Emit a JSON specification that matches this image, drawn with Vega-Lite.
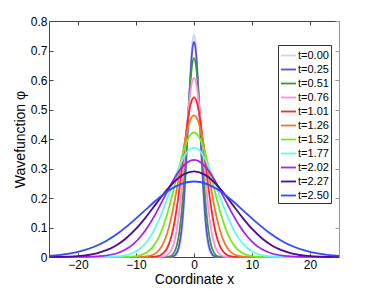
{
  "$schema": "https://vega.github.io/schema/vega-lite/v6.json",
  "width": 290,
  "height": 236,
  "autosize": {"type": "none"},
  "padding": {"left": 49, "top": 21, "right": 35, "bottom": 32},
  "config": {
    "view": {"stroke": null},
    "font": "Liberation Sans",
    "axis": {"grid": false, "domainColor": "#444", "tickColor": "#444", "labelColor": "#000", "titleColor": "#000", "labelFont": "Liberation Sans", "titleFont": "Liberation Sans", "labelFontSize": 12, "titleFontSize": 14, "titleFontWeight": "normal"}
  },
  "layer": [
    {
      "data": {"values": [
        {"t":"t=0.00","x":-25,"y":0},{"t":"t=0.00","x":-4,"y":0.0003},{"t":"t=0.00","x":-3.5,"y":0.0017},{"t":"t=0.00","x":-3,"y":0.0084},{"t":"t=0.00","x":-2.5,"y":0.0331},{"t":"t=0.00","x":-2.25,"y":0.06},{"t":"t=0.00","x":-2,"y":0.102},{"t":"t=0.00","x":-1.75,"y":0.1631},{"t":"t=0.00","x":-1.5,"y":0.2448},{"t":"t=0.00","x":-1.25,"y":0.3452},{"t":"t=0.00","x":-1,"y":0.4573},{"t":"t=0.00","x":-0.75,"y":0.5691},{"t":"t=0.00","x":-0.5,"y":0.6654},{"t":"t=0.00","x":-0.25,"y":0.7308},
        {"t":"t=0.00","x":0,"y":0.754},
        {"t":"t=0.00","x":0.25,"y":0.7308},{"t":"t=0.00","x":0.5,"y":0.6654},{"t":"t=0.00","x":0.75,"y":0.5691},{"t":"t=0.00","x":1,"y":0.4573},{"t":"t=0.00","x":1.25,"y":0.3452},{"t":"t=0.00","x":1.5,"y":0.2448},{"t":"t=0.00","x":1.75,"y":0.1631},{"t":"t=0.00","x":2,"y":0.102},{"t":"t=0.00","x":2.25,"y":0.06},{"t":"t=0.00","x":2.5,"y":0.0331},{"t":"t=0.00","x":3,"y":0.0084},{"t":"t=0.00","x":3.5,"y":0.0017},{"t":"t=0.00","x":4,"y":0.0003},{"t":"t=0.00","x":25,"y":0},

        {"t":"t=0.25","x":-25,"y":0},{"t":"t=0.25","x":-4.24,"y":0.0002},{"t":"t=0.25","x":-3.71,"y":0.0016},{"t":"t=0.25","x":-3.18,"y":0.0081},{"t":"t=0.25","x":-2.65,"y":0.032},{"t":"t=0.25","x":-2.385,"y":0.058},{"t":"t=0.25","x":-2.12,"y":0.0987},{"t":"t=0.25","x":-1.855,"y":0.1577},{"t":"t=0.25","x":-1.59,"y":0.2367},{"t":"t=0.25","x":-1.325,"y":0.3338},{"t":"t=0.25","x":-1.06,"y":0.4422},{"t":"t=0.25","x":-0.795,"y":0.5503},{"t":"t=0.25","x":-0.53,"y":0.6433},{"t":"t=0.25","x":-0.265,"y":0.7066},
        {"t":"t=0.25","x":0,"y":0.729},
        {"t":"t=0.25","x":0.265,"y":0.7066},{"t":"t=0.25","x":0.53,"y":0.6433},{"t":"t=0.25","x":0.795,"y":0.5503},{"t":"t=0.25","x":1.06,"y":0.4422},{"t":"t=0.25","x":1.325,"y":0.3338},{"t":"t=0.25","x":1.59,"y":0.2367},{"t":"t=0.25","x":1.855,"y":0.1577},{"t":"t=0.25","x":2.12,"y":0.0987},{"t":"t=0.25","x":2.385,"y":0.058},{"t":"t=0.25","x":2.65,"y":0.032},{"t":"t=0.25","x":3.18,"y":0.0081},{"t":"t=0.25","x":3.71,"y":0.0016},{"t":"t=0.25","x":4.24,"y":0.0002},{"t":"t=0.25","x":25,"y":0},

        {"t":"t=0.51","x":-25,"y":0},{"t":"t=0.51","x":-4.96,"y":0.0002},{"t":"t=0.51","x":-4.34,"y":0.0015},{"t":"t=0.51","x":-3.72,"y":0.0075},{"t":"t=0.51","x":-3.1,"y":0.0296},{"t":"t=0.51","x":-2.79,"y":0.0536},{"t":"t=0.51","x":-2.48,"y":0.0912},{"t":"t=0.51","x":-2.17,"y":0.1458},{"t":"t=0.51","x":-1.86,"y":0.2188},{"t":"t=0.51","x":-1.55,"y":0.3086},{"t":"t=0.51","x":-1.24,"y":0.4088},{"t":"t=0.51","x":-0.93,"y":0.5088},{"t":"t=0.51","x":-0.62,"y":0.5948},{"t":"t=0.51","x":-0.31,"y":0.6533},
        {"t":"t=0.51","x":0,"y":0.674},
        {"t":"t=0.51","x":0.31,"y":0.6533},{"t":"t=0.51","x":0.62,"y":0.5948},{"t":"t=0.51","x":0.93,"y":0.5088},{"t":"t=0.51","x":1.24,"y":0.4088},{"t":"t=0.51","x":1.55,"y":0.3086},{"t":"t=0.51","x":1.86,"y":0.2188},{"t":"t=0.51","x":2.17,"y":0.1458},{"t":"t=0.51","x":2.48,"y":0.0912},{"t":"t=0.51","x":2.79,"y":0.0536},{"t":"t=0.51","x":3.1,"y":0.0296},{"t":"t=0.51","x":3.72,"y":0.0075},{"t":"t=0.51","x":4.34,"y":0.0015},{"t":"t=0.51","x":4.96,"y":0.0002},{"t":"t=0.51","x":25,"y":0},

        {"t":"t=0.76","x":-25,"y":0},{"t":"t=0.76","x":-6.12,"y":0.0002},{"t":"t=0.76","x":-5.355,"y":0.0013},{"t":"t=0.76","x":-4.59,"y":0.0067},{"t":"t=0.76","x":-3.825,"y":0.0267},{"t":"t=0.76","x":-3.4425,"y":0.0483},{"t":"t=0.76","x":-3.06,"y":0.0822},{"t":"t=0.76","x":-2.6775,"y":0.1313},{"t":"t=0.76","x":-2.295,"y":0.1971},{"t":"t=0.76","x":-1.9125,"y":0.2779},{"t":"t=0.76","x":-1.53,"y":0.3682},{"t":"t=0.76","x":-1.1475,"y":0.4582},{"t":"t=0.76","x":-0.765,"y":0.5357},{"t":"t=0.76","x":-0.3825,"y":0.5883},
        {"t":"t=0.76","x":0,"y":0.607},
        {"t":"t=0.76","x":0.3825,"y":0.5883},{"t":"t=0.76","x":0.765,"y":0.5357},{"t":"t=0.76","x":1.1475,"y":0.4582},{"t":"t=0.76","x":1.53,"y":0.3682},{"t":"t=0.76","x":1.9125,"y":0.2779},{"t":"t=0.76","x":2.295,"y":0.1971},{"t":"t=0.76","x":2.6775,"y":0.1313},{"t":"t=0.76","x":3.06,"y":0.0822},{"t":"t=0.76","x":3.4425,"y":0.0483},{"t":"t=0.76","x":3.825,"y":0.0267},{"t":"t=0.76","x":4.59,"y":0.0067},{"t":"t=0.76","x":5.355,"y":0.0013},{"t":"t=0.76","x":6.12,"y":0.0002},{"t":"t=0.76","x":25,"y":0},

        {"t":"t=1.01","x":-25,"y":0},{"t":"t=1.01","x":-7.72,"y":0.0002},{"t":"t=1.01","x":-6.755,"y":0.0012},{"t":"t=1.01","x":-5.79,"y":0.006},{"t":"t=1.01","x":-4.825,"y":0.0238},{"t":"t=1.01","x":-4.3425,"y":0.043},{"t":"t=1.01","x":-3.86,"y":0.0732},{"t":"t=1.01","x":-3.3775,"y":0.117},{"t":"t=1.01","x":-2.895,"y":0.1756},{"t":"t=1.01","x":-2.4125,"y":0.2477},{"t":"t=1.01","x":-1.93,"y":0.3281},{"t":"t=1.01","x":-1.4475,"y":0.4084},{"t":"t=1.01","x":-0.965,"y":0.4774},{"t":"t=1.01","x":-0.4825,"y":0.5244},
        {"t":"t=1.01","x":0,"y":0.541},
        {"t":"t=1.01","x":0.4825,"y":0.5244},{"t":"t=1.01","x":0.965,"y":0.4774},{"t":"t=1.01","x":1.4475,"y":0.4084},{"t":"t=1.01","x":1.93,"y":0.3281},{"t":"t=1.01","x":2.4125,"y":0.2477},{"t":"t=1.01","x":2.895,"y":0.1756},{"t":"t=1.01","x":3.3775,"y":0.117},{"t":"t=1.01","x":3.86,"y":0.0732},{"t":"t=1.01","x":4.3425,"y":0.043},{"t":"t=1.01","x":4.825,"y":0.0238},{"t":"t=1.01","x":5.79,"y":0.006},{"t":"t=1.01","x":6.755,"y":0.0012},{"t":"t=1.01","x":7.72,"y":0.0002},{"t":"t=1.01","x":25,"y":0},

        {"t":"t=1.26","x":-25,"y":0},{"t":"t=1.26","x":-9.8,"y":0.0002},{"t":"t=1.26","x":-8.575,"y":0.0011},{"t":"t=1.26","x":-7.35,"y":0.0053},{"t":"t=1.26","x":-6.125,"y":0.0211},{"t":"t=1.26","x":-5.5125,"y":0.0382},{"t":"t=1.26","x":-4.9,"y":0.065},{"t":"t=1.26","x":-4.2875,"y":0.1038},{"t":"t=1.26","x":-3.675,"y":0.1558},{"t":"t=1.26","x":-3.0625,"y":0.2198},{"t":"t=1.26","x":-2.45,"y":0.2911},{"t":"t=1.26","x":-1.8375,"y":0.3623},{"t":"t=1.26","x":-1.225,"y":0.4236},{"t":"t=1.26","x":-0.6125,"y":0.4652},
        {"t":"t=1.26","x":0,"y":0.48},
        {"t":"t=1.26","x":0.6125,"y":0.4652},{"t":"t=1.26","x":1.225,"y":0.4236},{"t":"t=1.26","x":1.8375,"y":0.3623},{"t":"t=1.26","x":2.45,"y":0.2911},{"t":"t=1.26","x":3.0625,"y":0.2198},{"t":"t=1.26","x":3.675,"y":0.1558},{"t":"t=1.26","x":4.2875,"y":0.1038},{"t":"t=1.26","x":4.9,"y":0.065},{"t":"t=1.26","x":5.5125,"y":0.0382},{"t":"t=1.26","x":6.125,"y":0.0211},{"t":"t=1.26","x":7.35,"y":0.0053},{"t":"t=1.26","x":8.575,"y":0.0011},{"t":"t=1.26","x":9.8,"y":0.0002},{"t":"t=1.26","x":25,"y":0},

        {"t":"t=1.52","x":-25,"y":0},{"t":"t=1.52","x":-12.68,"y":0.0001},{"t":"t=1.52","x":-11.095,"y":0.0009},{"t":"t=1.52","x":-9.51,"y":0.0047},{"t":"t=1.52","x":-7.925,"y":0.0185},{"t":"t=1.52","x":-7.1325,"y":0.0336},{"t":"t=1.52","x":-6.34,"y":0.0571},{"t":"t=1.52","x":-5.5475,"y":0.0913},{"t":"t=1.52","x":-4.755,"y":0.137},{"t":"t=1.52","x":-3.9625,"y":0.1932},{"t":"t=1.52","x":-3.17,"y":0.256},{"t":"t=1.52","x":-2.3775,"y":0.3185},{"t":"t=1.52","x":-1.585,"y":0.3724},{"t":"t=1.52","x":-0.7925,"y":0.409},
        {"t":"t=1.52","x":0,"y":0.422},
        {"t":"t=1.52","x":0.7925,"y":0.409},{"t":"t=1.52","x":1.585,"y":0.3724},{"t":"t=1.52","x":2.3775,"y":0.3185},{"t":"t=1.52","x":3.17,"y":0.256},{"t":"t=1.52","x":3.9625,"y":0.1932},{"t":"t=1.52","x":4.755,"y":0.137},{"t":"t=1.52","x":5.5475,"y":0.0913},{"t":"t=1.52","x":6.34,"y":0.0571},{"t":"t=1.52","x":7.1325,"y":0.0336},{"t":"t=1.52","x":7.925,"y":0.0185},{"t":"t=1.52","x":9.51,"y":0.0047},{"t":"t=1.52","x":11.095,"y":0.0009},{"t":"t=1.52","x":12.68,"y":0.0001},{"t":"t=1.52","x":25,"y":0},

        {"t":"t=1.77","x":-25,"y":0},{"t":"t=1.77","x":-16.4,"y":0.0001},{"t":"t=1.77","x":-14.35,"y":0.0008},{"t":"t=1.77","x":-12.3,"y":0.0041},{"t":"t=1.77","x":-10.25,"y":0.0163},{"t":"t=1.77","x":-9.225,"y":0.0295},{"t":"t=1.77","x":-8.2,"y":0.0502},{"t":"t=1.77","x":-7.175,"y":0.0802},{"t":"t=1.77","x":-6.15,"y":0.1204},{"t":"t=1.77","x":-5.125,"y":0.1699},{"t":"t=1.77","x":-4.1,"y":0.225},{"t":"t=1.77","x":-3.075,"y":0.28},{"t":"t=1.77","x":-2.05,"y":0.3274},{"t":"t=1.77","x":-1.025,"y":0.3596},
        {"t":"t=1.77","x":0,"y":0.371},
        {"t":"t=1.77","x":1.025,"y":0.3596},{"t":"t=1.77","x":2.05,"y":0.3274},{"t":"t=1.77","x":3.075,"y":0.28},{"t":"t=1.77","x":4.1,"y":0.225},{"t":"t=1.77","x":5.125,"y":0.1699},{"t":"t=1.77","x":6.15,"y":0.1204},{"t":"t=1.77","x":7.175,"y":0.0802},{"t":"t=1.77","x":8.2,"y":0.0502},{"t":"t=1.77","x":9.225,"y":0.0295},{"t":"t=1.77","x":10.25,"y":0.0163},{"t":"t=1.77","x":12.3,"y":0.0041},{"t":"t=1.77","x":14.35,"y":0.0008},{"t":"t=1.77","x":16.4,"y":0.0001},{"t":"t=1.77","x":25,"y":0},

        {"t":"t=2.02","x":-25,"y":0},{"t":"t=2.02","x":-20.84,"y":0.0001},{"t":"t=2.02","x":-18.235,"y":0.0007},{"t":"t=2.02","x":-15.63,"y":0.0037},{"t":"t=2.02","x":-13.025,"y":0.0145},{"t":"t=2.02","x":-11.7225,"y":0.0262},{"t":"t=2.02","x":-10.42,"y":0.0445},{"t":"t=2.02","x":-9.1175,"y":0.0712},{"t":"t=2.02","x":-7.815,"y":0.1068},{"t":"t=2.02","x":-6.5125,"y":0.1506},{"t":"t=2.02","x":-5.21,"y":0.1995},{"t":"t=2.02","x":-3.9075,"y":0.2483},{"t":"t=2.02","x":-2.605,"y":0.2903},{"t":"t=2.02","x":-1.3025,"y":0.3189},
        {"t":"t=2.02","x":0,"y":0.329},
        {"t":"t=2.02","x":1.3025,"y":0.3189},{"t":"t=2.02","x":2.605,"y":0.2903},{"t":"t=2.02","x":3.9075,"y":0.2483},{"t":"t=2.02","x":5.21,"y":0.1995},{"t":"t=2.02","x":6.5125,"y":0.1506},{"t":"t=2.02","x":7.815,"y":0.1068},{"t":"t=2.02","x":9.1175,"y":0.0712},{"t":"t=2.02","x":10.42,"y":0.0445},{"t":"t=2.02","x":11.7225,"y":0.0262},{"t":"t=2.02","x":13.025,"y":0.0145},{"t":"t=2.02","x":15.63,"y":0.0037},{"t":"t=2.02","x":18.235,"y":0.0007},{"t":"t=2.02","x":20.84,"y":0.0001},{"t":"t=2.02","x":25,"y":0},

        {"t":"t=2.27","x":-25,"y":0.0003},{"t":"t=2.27","x":-23.485,"y":0.0006},{"t":"t=2.27","x":-20.13,"y":0.0032},{"t":"t=2.27","x":-16.775,"y":0.0127},{"t":"t=2.27","x":-15.0975,"y":0.0231},{"t":"t=2.27","x":-13.42,"y":0.0392},{"t":"t=2.27","x":-11.7425,"y":0.0627},{"t":"t=2.27","x":-10.065,"y":0.0941},{"t":"t=2.27","x":-8.3875,"y":0.1328},{"t":"t=2.27","x":-6.71,"y":0.1759},{"t":"t=2.27","x":-5.0325,"y":0.2189},{"t":"t=2.27","x":-3.355,"y":0.2559},{"t":"t=2.27","x":-1.6775,"y":0.2811},
        {"t":"t=2.27","x":0,"y":0.29},
        {"t":"t=2.27","x":1.6775,"y":0.2811},{"t":"t=2.27","x":3.355,"y":0.2559},{"t":"t=2.27","x":5.0325,"y":0.2189},{"t":"t=2.27","x":6.71,"y":0.1759},{"t":"t=2.27","x":8.3875,"y":0.1328},{"t":"t=2.27","x":10.065,"y":0.0941},{"t":"t=2.27","x":11.7425,"y":0.0627},{"t":"t=2.27","x":13.42,"y":0.0392},{"t":"t=2.27","x":15.0975,"y":0.0231},{"t":"t=2.27","x":16.775,"y":0.0127},{"t":"t=2.27","x":20.13,"y":0.0032},{"t":"t=2.27","x":23.485,"y":0.0006},{"t":"t=2.27","x":25,"y":0.0003},

        {"t":"t=2.50","x":-25,"y":0.0038},{"t":"t=2.50","x":-21.525,"y":0.0112},{"t":"t=2.50","x":-19.3725,"y":0.0204},{"t":"t=2.50","x":-17.22,"y":0.0346},{"t":"t=2.50","x":-15.0675,"y":0.0554},{"t":"t=2.50","x":-12.915,"y":0.0831},{"t":"t=2.50","x":-10.7625,"y":0.1172},{"t":"t=2.50","x":-8.61,"y":0.1553},{"t":"t=2.50","x":-6.4575,"y":0.1932},{"t":"t=2.50","x":-4.305,"y":0.2259},{"t":"t=2.50","x":-2.1525,"y":0.2481},
        {"t":"t=2.50","x":0,"y":0.256},
        {"t":"t=2.50","x":2.1525,"y":0.2481},{"t":"t=2.50","x":4.305,"y":0.2259},{"t":"t=2.50","x":6.4575,"y":0.1932},{"t":"t=2.50","x":8.61,"y":0.1553},{"t":"t=2.50","x":10.7625,"y":0.1172},{"t":"t=2.50","x":12.915,"y":0.0831},{"t":"t=2.50","x":15.0675,"y":0.0554},{"t":"t=2.50","x":17.22,"y":0.0346},{"t":"t=2.50","x":19.3725,"y":0.0204},{"t":"t=2.50","x":21.525,"y":0.0112},{"t":"t=2.50","x":25,"y":0.0038}
      ]},
      "mark": {"type": "line", "interpolate": "monotone", "strokeWidth": 1.8},
      "encoding": {
        "x": {"field": "x", "type": "quantitative", "scale": {"domain": [-25, 25], "nice": false, "zero": false},
              "axis": {"values": [-20, -10, 0, 10, 20], "tickSize": -4, "labelPadding": 6, "title": "Coordinate x", "titlePadding": 2}},
        "y": {"field": "y", "type": "quantitative", "scale": {"domain": [0, 0.8], "nice": false},
              "axis": {"values": [0, 0.1, 0.2, 0.3, 0.4, 0.5, 0.6, 0.7, 0.8], "format": ".1~f", "tickSize": -4, "labelPadding": 6, "title": "Wavefunction \u03c6", "titlePadding": 3}},
        "color": {"field": "t", "type": "nominal",
                  "scale": {"domain": ["t=0.00","t=0.25","t=0.51","t=0.76","t=1.01","t=1.26","t=1.52","t=1.77","t=2.02","t=2.27","t=2.50"],
                            "range": ["#c6d6f4","#5a4ee6","#3a973a","#ff8fe6","#ff2626","#f07a25","#72ec1e","#66f6f6","#a224ef","#4c0a97","#2f4cff"]},
                  "legend": {"orient": "none", "legendX": 229, "legendY": 24, "title": null, "symbolType": "stroke", "symbolSize": 225, "symbolStrokeWidth": 1.8, "labelFontSize": 11, "labelFont": "Liberation Sans", "labelColor": "#000", "padding": 2, "rowPadding": -1.2, "strokeColor": "#333", "fillColor": "white", "labelOffset": 1}}
      }
    },
    {
      "data": {"values": [{"x": 0, "y": 0}]},
      "mark": {"type": "point", "opacity": 0},
      "encoding": {
        "x": {"field": "x", "type": "quantitative", "axis": {"orient": "top", "values": [-20, -10, 0, 10, 20], "labels": false, "tickSize": -4, "title": null}},
        "y": {"field": "y", "type": "quantitative", "axis": {"orient": "right", "values": [0, 0.1, 0.2, 0.3, 0.4, 0.5, 0.6, 0.7, 0.8], "labels": false, "tickSize": -4, "title": null, "domainColor": "#999", "tickColor": "#999"}}
      }
    }
  ],
  "resolve": {"axis": {"x": "independent", "y": "independent"}}
}
